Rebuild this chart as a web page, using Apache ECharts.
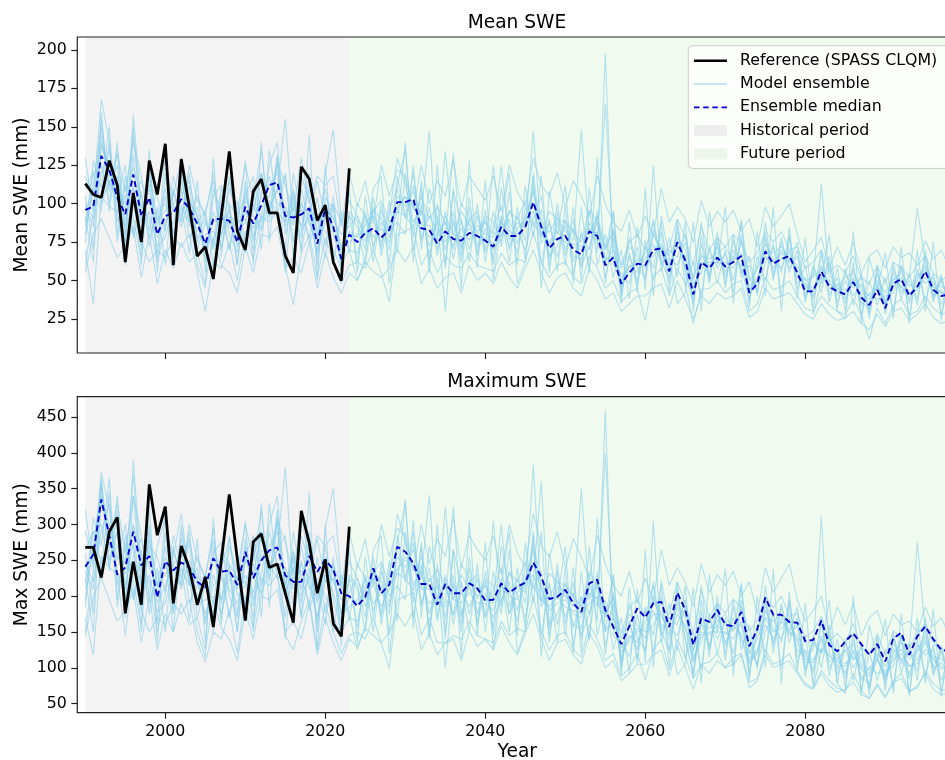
<!DOCTYPE html>
<html>
<head>
<meta charset="utf-8">
<title>SWE ensemble</title>
<script src="https://cdn.jsdelivr.net/npm/echarts@6/dist/echarts.min.js"></script>
<style>
  html, body { margin: 0; padding: 0; background: #fff; }
  #chart { width: 945px; height: 760px; }
</style>
</head>
<body>
<div id="chart"></div>
<script>
var FIRST_YEAR = 1990;
var REF_LAST = 2023;

var xTicks = [2000, 2020, 2040, 2060, 2080, 2100];
var meanTicks = [25, 50, 75, 100, 125, 150, 175, 200];
var maxTicks = [50, 100, 150, 200, 250, 300, 350, 400, 450];

// reference (SPASS CLQM), 1990-2023
var meanRef = [113, 106, 104, 128, 112, 62, 107, 75, 128, 106,
  139, 60, 129, 98, 66, 72, 51, 92, 134, 82,
  70, 108, 116, 94, 94, 66, 55, 124, 116, 89,
  99, 62, 50, 123];
var maxRef = [268, 268, 226, 290, 310, 176, 248, 188, 356, 285,
  325, 190, 270, 239, 188, 227, 157, 250, 342, 252,
  166, 276, 287, 240, 245, 204, 163, 319, 274, 204,
  251, 162, 144, 297];

// ensemble median, 1990-2099
var meanMedian = [96, 98, 131, 122, 104, 93, 119, 92, 104, 80,
  92, 94, 103, 97, 87, 74, 90, 90, 89, 75,
  98, 87, 99, 112, 114, 92, 91, 93, 97, 74,
  97, 85, 64, 80, 75, 81, 84, 78, 83, 101,
  101, 103, 84, 83, 74, 82, 77, 76, 81, 79,
  76, 72, 85, 79, 79, 85, 101, 85, 71, 77,
  79, 70, 67, 82, 79, 60, 65, 48, 55, 61,
  60, 70, 71, 56, 75, 63, 41, 62, 58, 65,
  59, 62, 66, 42, 48, 69, 61, 64, 66, 55,
  43, 43, 56, 46, 43, 41, 49, 39, 34, 44,
  32, 48, 51, 40, 46, 56, 44, 40, 41, 44];
var maxMedian = [241, 258, 335, 285, 230, 240, 290, 243, 256, 198,
  249, 236, 247, 240, 220, 212, 253, 234, 236, 216,
  262, 225, 250, 264, 268, 229, 220, 220, 256, 234,
  251, 237, 204, 200, 186, 199, 239, 204, 216, 269,
  262, 246, 217, 217, 188, 217, 204, 204, 218, 211,
  194, 195, 218, 205, 213, 219, 247, 227, 196, 199,
  209, 190, 178, 218, 223, 181, 157, 133, 158, 183,
  170, 190, 192, 157, 205, 181, 132, 169, 164, 181,
  160, 158, 178, 130, 154, 198, 174, 174, 164, 163,
  137, 139, 166, 132, 123, 137, 148, 133, 118, 133,
  109, 141, 149, 118, 144, 158, 140, 125, 123, 128];

// model ensemble members, mean SWE, 1990-2099
var meanMembers = [
  [118, 105, 168, 140, 96, 85, 132, 70, 118, 88, 110, 72, 120, 85, 98, 62, 105, 112, 80, 68,
    115, 78, 92, 125, 140, 80, 102, 85, 110, 60, 104, 96, 70, 93, 62, 95, 72, 88, 70, 118,
    92, 120, 75, 98, 66, 95, 64, 90, 70, 92, 68, 85, 98, 70, 92, 76, 120, 74, 88, 65,
    90, 62, 80, 70, 92, 52, 78, 42, 66, 50, 72, 58, 88, 48, 86, 55, 35, 74, 50, 78,
    52, 70, 58, 38, 60, 80, 52, 75, 58, 66, 38, 55, 48, 58, 36, 50, 40, 48, 28, 55,
    30, 58, 42, 50, 38, 66, 40, 52, 35, 50],
  [80, 112, 150, 110, 125, 70, 158, 98, 90, 62, 85, 108, 92, 112, 70, 88, 72, 98, 115, 82,
    88, 105, 120, 98, 108, 118, 75, 110, 86, 92, 82, 70, 58, 95, 88, 70, 104, 66, 92, 130,
    112, 88, 96, 72, 88, 70, 95, 66, 98, 72, 90, 64, 110, 85, 68, 98, 85, 96, 60, 88,
    70, 84, 58, 95, 68, 198, 60, 55, 48, 72, 50, 82, 65, 64, 60, 75, 48, 55, 70, 58,
    68, 50, 76, 52, 44, 62, 72, 55, 80, 48, 52, 38, 70, 40, 52, 35, 58, 34, 42, 38,
    40, 42, 60, 35, 55, 48, 52, 34, 48, 38],
  [100, 90, 120, 135, 88, 105, 110, 82, 95, 72, 78, 98, 85, 102, 92, 66, 95, 80, 96, 60,
    105, 92, 84, 118, 100, 98, 86, 100, 92, 68, 90, 92, 72, 75, 80, 92, 78, 84, 75, 96,
    105, 98, 88, 78, 80, 88, 72, 84, 76, 86, 80, 78, 90, 72, 84, 90, 95, 80, 75, 82,
    75, 74, 72, 78, 82, 62, 70, 52, 58, 64, 62, 66, 74, 58, 72, 66, 45, 60, 62, 62,
    62, 58, 68, 46, 52, 66, 58, 68, 62, 58, 46, 46, 52, 48, 45, 44, 48, 42, 38, 46,
    36, 46, 50, 42, 44, 52, 46, 42, 40, 45],
  [92, 62, 140, 118, 112, 96, 124, 105, 78, 95, 100, 86, 115, 90, 78, 80, 82, 72, 92, 88,
    90, 70, 108, 104, 125, 85, 98, 78, 120, 80, 110, 80, 62, 70, 68, 88, 92, 72, 96, 110,
    90, 112, 78, 92, 82, 75, 88, 72, 90, 68, 84, 70, 80, 90, 74, 92, 108, 88, 66, 72,
    86, 66, 64, 88, 75, 165, 72, 46, 60, 55, 68, 74, 62, 52, 82, 58, 38, 68, 54, 72,
    55, 66, 60, 44, 50, 74, 64, 58, 70, 52, 48, 40, 60, 44, 48, 38, 52, 36, 32, 48,
    34, 52, 46, 38, 50, 58, 40, 44, 38, 48],
  [75, 128, 110, 150, 80, 118, 90, 65, 135, 55, 120, 80, 98, 68, 115, 55, 110, 95, 70, 102,
    75, 112, 70, 135, 95, 70, 120, 92, 78, 104, 72, 105, 54, 110, 55, 105, 70, 100, 60, 112,
    135, 78, 110, 60, 100, 58, 108, 88, 62, 100, 62, 95, 72, 108, 60, 112, 78, 118, 55, 95,
    60, 98, 50, 110, 60, 80, 52, 70, 38, 85, 44, 125, 56, 78, 52, 88, 30, 80, 48, 82,
    45, 80, 52, 66, 40, 88, 50, 78, 55, 70, 36, 60, 42, 66, 32, 58, 34, 55, 25, 60,
    28, 62, 38, 55, 34, 70, 36, 54, 30, 58],
  [70, 35, 105, 98, 95, 60, 100, 75, 62, 70, 65, 78, 72, 80, 55, 30, 62, 58, 75, 50,
    82, 64, 92, 88, 95, 60, 34, 68, 80, 52, 78, 62, 48, 60, 62, 58, 70, 55, 36, 80,
    82, 85, 60, 70, 55, 66, 60, 58, 68, 60, 58, 56, 68, 60, 64, 62, 82, 62, 52, 60,
    62, 52, 48, 66, 58, 45, 50, 36, 42, 45, 24, 52, 58, 40, 58, 48, 22, 44, 45, 50,
    42, 48, 50, 30, 35, 52, 44, 46, 50, 40, 32, 30, 40, 34, 30, 28, 38, 28, 12, 32,
    22, 34, 38, 28, 30, 40, 32, 28, 30, 32],
  [110, 120, 125, 100, 140, 80, 105, 115, 100, 90, 95, 105, 130, 92, 82, 90, 70, 105, 98, 72,
    102, 95, 120, 96, 110, 155, 88, 118, 102, 78, 100, 90, 80, 85, 92, 75, 96, 90, 78, 105,
    98, 108, 92, 147, 70, 92, 80, 95, 86, 82, 88, 80, 125, 76, 88, 84, 147, 80, 82, 90,
    82, 76, 148, 80, 92, 72, 82, 58, 72, 66, 58, 80, 70, 66, 78, 70, 52, 66, 64, 68,
    72, 62, 88, 50, 58, 70, 68, 72, 64, 60, 50, 52, 113, 50, 46, 52, 55, 44, 40, 50,
    42, 50, 56, 46, 52, 60, 48, 46, 44, 50],
  [98, 85, 138, 125, 105, 100, 150, 88, 110, 78, 88, 100, 105, 115, 90, 72, 88, 92, 86, 78,
    95, 84, 105, 112, 120, 95, 92, 96, 88, 70, 95, 85, 68, 82, 78, 86, 88, 75, 86, 98,
    104, 100, 86, 86, 76, 134, 80, 78, 84, 78, 78, 74, 88, 82, 80, 88, 100, 86, 74, 78,
    80, 72, 70, 84, 80, 64, 66, 50, 56, 62, 64, 72, 72, 60, 76, 64, 44, 62, 60, 66,
    60, 64, 66, 44, 50, 70, 62, 64, 68, 56, 44, 44, 58, 48, 44, 42, 50, 40, 36, 46,
    34, 48, 52, 42, 46, 56, 46, 42, 42, 46],
  [85, 110, 95, 140, 75, 112, 80, 108, 72, 98, 60, 110, 88, 120, 75, 95, 60, 100, 70, 95,
    68, 100, 82, 100, 92, 120, 65, 102, 74, 90, 65, 100, 60, 92, 85, 60, 98, 70, 102, 68,
    120, 70, 100, 64, 92, 30, 90, 62, 104, 66, 96, 60, 92, 62, 98, 64, 112, 60, 90, 56,
    98, 54, 82, 58, 96, 48, 84, 40, 68, 46, 76, 50, 82, 42, 90, 46, 62, 40, 72, 48,
    70, 42, 80, 36, 66, 50, 74, 40, 78, 44, 60, 32, 68, 36, 58, 30, 62, 28, 50, 34,
    52, 30, 60, 26, 58, 36, 55, 28, 48, 30],
  [60, 95, 145, 108, 118, 88, 112, 60, 125, 85, 105, 62, 110, 78, 88, 95, 115, 70, 100, 60,
    110, 75, 118, 92, 132, 88, 105, 70, 98, 65, 120, 148, 90, 68, 100, 92, 62, 96, 82, 88,
    80, 125, 70, 110, 90, 78, 133, 70, 90, 95, 70, 125, 78, 96, 82, 70, 90, 105, 64, 100,
    66, 90, 60, 72, 88, 70, 95, 44, 78, 58, 52, 90, 60, 70, 65, 80, 50, 88, 52, 75,
    48, 76, 55, 60, 42, 78, 55, 70, 62, 75, 40, 58, 50, 62, 40, 55, 45, 52, 30, 58,
    36, 55, 45, 52, 97, 62, 38, 50, 36, 52],
  [130, 95, 155, 112, 132, 108, 140, 118, 82, 112, 128, 100, 88, 125, 102, 92, 120, 78, 110, 95,
    125, 102, 135, 90, 128, 112, 95, 130, 100, 118, 112, 118, 85, 120, 98, 115, 88, 125, 105, 122,
    118, 96, 125, 100, 115, 105, 128, 98, 118, 110, 102, 118, 95, 125, 108, 98, 130, 112, 105, 120,
    98, 115, 105, 92, 118, 100, 88, 82, 96, 78, 92, 80, 110, 88, 98, 90, 75, 102, 85, 95,
    88, 96, 82, 90, 72, 98, 85, 92, 100, 80, 62, 70, 78, 58, 72, 60, 75, 55, 66, 70,
    58, 72, 65, 68, 60, 76, 64, 70, 58, 72],
  [55, 80, 90, 78, 65, 72, 85, 52, 80, 48, 70, 58, 75, 62, 68, 48, 78, 60, 55, 42,
    72, 55, 80, 78, 85, 58, 65, 55, 75, 45, 68, 52, 42, 55, 50, 62, 56, 52, 58, 70,
    62, 72, 48, 58, 45, 52, 55, 42, 60, 50, 55, 48, 62, 52, 45, 58, 70, 55, 42, 52,
    55, 45, 40, 58, 50, 38, 42, 30, 35, 40, 40, 45, 48, 32, 50, 38, 25, 40, 35, 42,
    38, 40, 45, 26, 30, 45, 38, 40, 42, 35, 28, 25, 35, 28, 24, 26, 30, 22, 18, 28,
    20, 30, 32, 24, 28, 35, 26, 22, 24, 26],
  [105, 70, 160, 95, 135, 75, 145, 88, 120, 65, 135, 70, 125, 92, 60, 45, 130, 65, 118, 85,
    128, 60, 140, 75, 130, 55, 110, 68, 145, 50, 125, 60, 95, 70, 50, 65, 110, 118, 48, 85,
    140, 62, 115, 55, 125, 60, 110, 45, 128, 58, 115, 50, 88, 120, 48, 62, 118, 45, 108, 80,
    112, 48, 98, 55, 130, 60, 95, 35, 88, 42, 110, 40, 92, 65, 35, 42, 88, 30, 95, 60,
    98, 35, 90, 32, 82, 40, 98, 30, 85, 38, 78, 28, 50, 80, 30, 25, 82, 22, 65, 45,
    68, 25, 72, 22, 70, 30, 75, 24, 62, 28],
  [88, 120, 100, 115, 102, 125, 78, 96, 112, 105, 82, 118, 98, 88, 105, 92, 75, 110, 100, 92,
    105, 118, 88, 102, 95, 88, 108, 82, 92, 115, 90, 100, 88, 102, 92, 80, 95, 102, 88, 95,
    92, 85, 105, 90, 98, 88, 70, 100, 92, 80, 92, 88, 75, 95, 90, 102, 88, 78, 95, 90,
    88, 82, 75, 96, 88, 70, 82, 60, 75, 80, 70, 88, 62, 72, 90, 78, 60, 85, 70, 78,
    72, 80, 75, 62, 68, 82, 75, 82, 70, 72, 58, 62, 70, 56, 60, 55, 66, 52, 48, 60,
    48, 62, 58, 52, 60, 66, 55, 50, 54, 58]
];

// model ensemble members, max SWE, 1990-2099
var maxMembers = [
  [290, 250, 373, 320, 230, 210, 300, 180, 280, 215, 270, 175, 290, 215, 240, 160, 260, 275, 200, 170,
    280, 195, 230, 300, 340, 200, 250, 210, 270, 150, 255, 235, 175, 225, 155, 230, 180, 215, 175, 285,
    225, 290, 185, 240, 165, 230, 160, 220, 175, 225, 170, 210, 240, 175, 225, 190, 290, 185, 215, 160,
    220, 155, 200, 175, 225, 130, 190, 105, 165, 125, 180, 145, 215, 120, 210, 140, 90, 180, 125, 190,
    130, 170, 145, 95, 150, 195, 130, 185, 145, 160, 95, 135, 120, 145, 90, 125, 100, 120, 70, 135,
    75, 145, 105, 125, 95, 160, 100, 130, 88, 125],
  [195, 270, 350, 250, 290, 170, 390, 240, 220, 150, 205, 265, 225, 275, 170, 215, 175, 240, 280, 200,
    215, 255, 290, 240, 265, 285, 185, 270, 210, 225, 200, 170, 145, 230, 215, 170, 255, 160, 225, 315,
    275, 215, 235, 175, 215, 170, 230, 160, 240, 175, 220, 155, 270, 210, 165, 240, 210, 235, 145, 215,
    170, 205, 140, 230, 165, 459, 145, 135, 115, 175, 120, 200, 160, 155, 145, 185, 115, 135, 170, 140,
    165, 120, 185, 125, 105, 150, 175, 135, 195, 115, 125, 92, 170, 98, 125, 85, 140, 82, 102, 92,
    96, 102, 145, 85, 132, 118, 126, 82, 116, 92],
  [245, 220, 290, 330, 215, 255, 270, 200, 230, 178, 190, 240, 210, 250, 225, 165, 230, 195, 235, 150,
    255, 225, 205, 290, 245, 240, 210, 245, 225, 170, 220, 225, 175, 185, 195, 225, 190, 205, 185, 235,
    255, 240, 215, 190, 195, 215, 175, 205, 185, 210, 195, 190, 220, 175, 205, 220, 230, 195, 185, 200,
    185, 180, 175, 190, 200, 150, 170, 128, 140, 155, 150, 160, 180, 140, 175, 160, 110, 145, 150, 150,
    150, 140, 165, 112, 125, 160, 140, 165, 150, 140, 112, 112, 126, 116, 110, 106, 116, 102, 92, 112,
    88, 112, 120, 102, 106, 126, 112, 102, 98, 110],
  [225, 150, 340, 285, 270, 230, 300, 255, 190, 230, 245, 210, 280, 220, 190, 195, 200, 175, 225, 215,
    220, 170, 265, 255, 305, 205, 240, 190, 290, 195, 270, 195, 150, 170, 165, 215, 225, 175, 235, 270,
    220, 275, 190, 225, 200, 185, 215, 175, 220, 165, 205, 170, 195, 220, 180, 225, 265, 215, 160, 175,
    210, 160, 155, 215, 185, 399, 175, 112, 145, 135, 165, 180, 150, 125, 200, 140, 92, 165, 130, 175,
    135, 160, 145, 105, 120, 180, 155, 140, 170, 125, 118, 98, 145, 108, 118, 92, 126, 88, 78, 116,
    82, 126, 112, 92, 122, 140, 98, 108, 92, 116],
  [185, 310, 270, 365, 195, 285, 220, 160, 330, 135, 290, 195, 240, 165, 280, 135, 270, 230, 170, 250,
    185, 275, 170, 330, 230, 170, 290, 225, 190, 255, 175, 255, 130, 270, 135, 255, 170, 245, 145, 275,
    330, 190, 270, 145, 245, 140, 265, 215, 150, 245, 150, 235, 175, 265, 145, 275, 190, 290, 135, 235,
    145, 240, 120, 270, 145, 195, 125, 170, 92, 210, 108, 305, 135, 190, 125, 215, 85, 195, 115, 200,
    110, 195, 125, 160, 98, 215, 120, 190, 135, 170, 88, 145, 100, 160, 78, 140, 82, 135, 62, 145,
    68, 150, 92, 135, 82, 170, 88, 130, 72, 140],
  [170, 118, 255, 240, 230, 145, 245, 180, 150, 170, 160, 190, 175, 195, 135, 108, 150, 140, 180, 120,
    200, 155, 225, 215, 230, 145, 125, 165, 195, 125, 190, 150, 120, 145, 150, 140, 170, 135, 99, 195,
    200, 205, 145, 170, 135, 135, 145, 140, 165, 145, 140, 135, 165, 145, 155, 150, 200, 150, 125, 145,
    150, 125, 115, 160, 140, 110, 120, 88, 100, 120, 83, 125, 140, 96, 140, 115, 85, 105, 108, 120,
    100, 115, 120, 80, 85, 125, 105, 110, 120, 95, 78, 72, 96, 82, 72, 68, 92, 68, 57, 78,
    60, 82, 92, 68, 72, 96, 78, 68, 72, 78],
  [265, 290, 300, 240, 340, 195, 255, 280, 240, 215, 230, 255, 315, 225, 200, 220, 170, 255, 240, 175,
    250, 230, 290, 235, 265, 380, 215, 285, 245, 190, 245, 220, 195, 205, 225, 185, 235, 220, 190, 255,
    240, 265, 225, 341, 170, 225, 195, 230, 210, 200, 215, 195, 300, 185, 215, 205, 383, 195, 200, 220,
    200, 185, 350, 195, 225, 175, 200, 140, 175, 160, 140, 195, 170, 160, 190, 170, 125, 160, 155, 165,
    175, 150, 215, 120, 140, 170, 165, 175, 155, 145, 120, 125, 311, 120, 112, 125, 132, 106, 96, 120,
    102, 120, 135, 112, 125, 145, 116, 112, 106, 120],
  [235, 210, 330, 300, 255, 245, 370, 215, 265, 190, 215, 245, 255, 280, 220, 175, 215, 225, 210, 190,
    230, 205, 255, 270, 290, 230, 225, 235, 215, 170, 230, 205, 165, 200, 190, 210, 215, 185, 210, 240,
    250, 245, 210, 210, 185, 325, 195, 190, 205, 190, 190, 180, 215, 200, 195, 215, 245, 210, 180, 190,
    195, 175, 170, 205, 195, 155, 160, 122, 136, 150, 155, 175, 175, 146, 185, 155, 108, 150, 146, 160,
    146, 155, 160, 108, 122, 170, 150, 155, 165, 136, 108, 108, 140, 116, 108, 102, 122, 98, 88, 112,
    84, 116, 126, 102, 112, 136, 112, 98, 102, 112],
  [210, 265, 235, 345, 185, 275, 195, 265, 175, 240, 150, 270, 215, 290, 185, 230, 150, 245, 170, 230,
    165, 245, 200, 245, 225, 230, 160, 250, 180, 220, 160, 245, 150, 225, 210, 150, 240, 170, 250, 165,
    290, 170, 245, 155, 225, 100, 220, 150, 255, 160, 235, 145, 225, 150, 240, 155, 275, 145, 220, 135,
    240, 130, 200, 140, 235, 118, 205, 98, 165, 112, 185, 122, 200, 102, 220, 112, 150, 98, 175, 118,
    170, 102, 195, 88, 160, 122, 180, 98, 190, 106, 145, 78, 165, 88, 140, 72, 150, 68, 122, 82,
    126, 72, 145, 64, 140, 88, 132, 68, 116, 72],
  [150, 235, 355, 265, 290, 215, 275, 150, 300, 210, 255, 150, 270, 190, 215, 230, 280, 170, 245, 150,
    270, 185, 290, 225, 320, 215, 255, 170, 240, 160, 295, 350, 220, 165, 245, 225, 150, 235, 200, 215,
    195, 305, 170, 270, 220, 190, 325, 170, 220, 230, 170, 305, 190, 235, 200, 170, 220, 360, 155, 245,
    160, 220, 145, 175, 215, 170, 230, 108, 190, 140, 125, 220, 145, 170, 160, 195, 120, 215, 125, 185,
    118, 185, 135, 145, 102, 190, 135, 170, 150, 185, 98, 140, 122, 150, 98, 135, 110, 128, 72, 142,
    88, 135, 110, 126, 276, 150, 92, 122, 88, 126],
  [320, 240, 360, 270, 330, 260, 340, 285, 200, 270, 310, 245, 215, 300, 250, 225, 295, 190, 270, 235,
    300, 250, 320, 220, 305, 275, 230, 315, 245, 285, 270, 285, 210, 290, 240, 280, 215, 300, 255, 295,
    285, 235, 300, 245, 280, 255, 310, 240, 285, 265, 250, 285, 230, 300, 260, 240, 315, 270, 255, 290,
    240, 280, 255, 225, 285, 245, 215, 200, 235, 190, 225, 195, 265, 215, 240, 220, 185, 245, 205, 230,
    215, 235, 200, 220, 175, 240, 205, 225, 245, 195, 165, 180, 200, 150, 185, 160, 190, 145, 170, 180,
    145, 175, 160, 165, 150, 185, 158, 170, 145, 178],
  [145, 200, 225, 195, 165, 180, 210, 135, 200, 125, 175, 150, 190, 160, 170, 125, 195, 155, 140, 110,
    180, 140, 200, 195, 210, 150, 165, 140, 190, 118, 170, 135, 110, 140, 130, 155, 145, 135, 150, 175,
    158, 180, 125, 148, 118, 135, 140, 110, 152, 130, 140, 125, 158, 135, 118, 148, 175, 140, 110, 135,
    140, 118, 105, 148, 130, 100, 110, 82, 92, 105, 105, 118, 125, 88, 130, 100, 70, 105, 92, 110,
    100, 105, 118, 72, 82, 118, 100, 105, 110, 92, 75, 70, 92, 75, 66, 70, 80, 62, 58, 75,
    58, 80, 85, 66, 75, 92, 70, 62, 66, 70],
  [260, 175, 365, 235, 320, 185, 340, 215, 290, 160, 320, 175, 300, 225, 150, 115, 310, 160, 285, 210,
    305, 150, 330, 185, 310, 140, 265, 170, 345, 125, 300, 150, 230, 175, 125, 160, 265, 285, 120, 210,
    335, 155, 275, 140, 300, 150, 265, 115, 305, 145, 275, 125, 215, 290, 120, 155, 285, 115, 260, 195,
    270, 120, 235, 138, 310, 150, 230, 90, 212, 105, 265, 100, 222, 160, 90, 105, 212, 78, 230, 148,
    238, 88, 218, 82, 200, 100, 238, 78, 206, 95, 190, 72, 125, 195, 78, 64, 200, 62, 160, 112,
    168, 64, 176, 60, 170, 78, 182, 60, 152, 72],
  [220, 290, 245, 275, 250, 300, 195, 235, 270, 255, 205, 285, 240, 215, 255, 225, 190, 265, 245, 225,
    255, 285, 215, 250, 235, 215, 262, 200, 225, 280, 220, 245, 215, 248, 225, 195, 232, 248, 215, 232,
    225, 208, 255, 220, 238, 215, 172, 245, 225, 196, 224, 215, 185, 232, 220, 248, 215, 192, 232, 220,
    215, 200, 185, 234, 215, 172, 200, 148, 184, 196, 172, 215, 152, 176, 220, 190, 148, 208, 172, 190,
    176, 196, 184, 152, 166, 200, 184, 200, 172, 176, 142, 152, 172, 138, 148, 135, 162, 128, 118, 148,
    118, 152, 142, 128, 148, 162, 135, 122, 132, 142]
];

var FONT = 'DejaVu Sans';
var ENS_COLOR = 'rgba(135,206,235,0.6)';
var MED_COLOR = '#0000cd';
var HIST_COLOR = '#f3f3f3';
var FUT_COLOR = '#f1faee';

function pairs(values) {
  var out = [];
  for (var i = 0; i < values.length; i++) {
    out.push([FIRST_YEAR + i, values[i]]);
  }
  return out;
}

function panelSeries(idx, members, median, ref) {
  var list = [];
  list.push({
    name: 'Historical period', type: 'line', xAxisIndex: idx, yAxisIndex: idx,
    data: [], silent: true, z: 1,
    markArea: { silent: true, itemStyle: { color: HIST_COLOR, opacity: 1 },
      data: [[{ xAxis: FIRST_YEAR }, { xAxis: REF_LAST }]] }
  });
  list.push({
    name: 'Future period', type: 'line', xAxisIndex: idx, yAxisIndex: idx,
    data: [], silent: true, z: 1,
    markArea: { silent: true, itemStyle: { color: FUT_COLOR, opacity: 1 },
      data: [[{ xAxis: REF_LAST }, { xAxis: 2100 }]] }
  });
  for (var m = 0; m < members.length; m++) {
    list.push({
      name: 'Model ensemble', type: 'line', xAxisIndex: idx, yAxisIndex: idx,
      data: pairs(members[m]), symbol: 'none', silent: true, z: 2,
      lineStyle: { color: ENS_COLOR, width: 1.1 }
    });
  }
  list.push({
    name: 'Ensemble median', type: 'line', xAxisIndex: idx, yAxisIndex: idx,
    data: pairs(median), symbol: 'none', silent: true, z: 4,
    lineStyle: { color: MED_COLOR, width: 1.9, type: [6, 3.5] }
  });
  list.push({
    name: 'Reference (SPASS CLQM)', type: 'line', xAxisIndex: idx, yAxisIndex: idx,
    data: pairs(ref), symbol: 'none', silent: true, z: 5,
    lineStyle: { color: '#000', width: 2.8 }
  });
  return list;
}

function yearLabel(v) {
  return String(v);
}

function xAxisOpt(idx, showLabels) {
  return {
    type: 'value', gridIndex: idx, min: 1989, max: 2099,
    splitLine: { show: false },
    axisLine: { show: false },
    axisTick: { show: true, customValues: xTicks, length: 6, lineStyle: { color: '#222', width: 1.2 } },
    axisLabel: { show: showLabels, customValues: xTicks, formatter: yearLabel, margin: 11,
      color: '#000', fontFamily: FONT, fontSize: 15.8 },
    name: showLabels ? 'Year' : '',
    nameLocation: 'middle', nameGap: 29, nameMoveOverlap: false,
    nameTextStyle: { color: '#000', fontFamily: FONT, fontSize: 18.6, lineHeight: 20 }
  };
}

function yAxisOpt(idx, min, max, ticks, label) {
  return {
    type: 'value', gridIndex: idx, min: min, max: max,
    splitLine: { show: false },
    axisLine: { show: false },
    axisTick: { show: true, customValues: ticks, length: 6, lineStyle: { color: '#222', width: 1.2 } },
    axisLabel: { customValues: ticks, margin: 10.5, color: '#000', fontFamily: FONT, fontSize: 15.8 },
    name: label, nameLocation: 'middle', nameGap: 44.8, nameMoveOverlap: false,
    nameTextStyle: { color: '#000', fontFamily: FONT, fontSize: 18.6, lineHeight: 20 }
  };
}

var chart = echarts.init(document.getElementById('chart'), null, { renderer: 'canvas' });

// grid runs past the right edge, like the cropped original
var gridBase = { show: true, z: 10, backgroundColor: 'transparent', borderColor: '#222', borderWidth: 1.2,
  left: 77.3, width: 880, height: 316, outerBoundsMode: 'none', containLabel: false };

var option = {
  animation: false,
  backgroundColor: '#fff',
  title: [
    { text: 'Mean SWE', left: 517, top: 13, textAlign: 'center', padding: 0,
      textStyle: { fontFamily: FONT, fontSize: 18.6, fontWeight: 'normal', color: '#000', lineHeight: 20 } },
    { text: 'Maximum SWE', left: 517, top: 372, textAlign: 'center', padding: 0,
      textStyle: { fontFamily: FONT, fontSize: 18.6, fontWeight: 'normal', color: '#000', lineHeight: 20 } }
  ],
  grid: [
    Object.assign({}, gridBase, { top: 37 }),
    Object.assign({}, gridBase, { top: 396.7 })
  ],
  xAxis: [xAxisOpt(0, false), xAxisOpt(1, true)],
  yAxis: [
    yAxisOpt(0, 2.9, 208.4, meanTicks, 'Mean SWE (mm)'),
    yAxisOpt(1, 37.4, 478.3, maxTicks, 'Max SWE (mm)')
  ],
  legend: {
    orient: 'vertical', left: 688.3, top: 45.7,
    padding: [6, 22, 5.5, 5.7],
    itemWidth: 33, itemHeight: 11, itemGap: 5.3,
    backgroundColor: 'rgba(255,255,255,0.8)', borderColor: '#cccccc', borderWidth: 1, borderRadius: 4,
    selectedMode: false,
    textStyle: { fontFamily: FONT, fontSize: 15.8, color: '#000', lineHeight: 18, padding: [0, 0, 0, 8] },
    data: [
      { name: 'Reference (SPASS CLQM)', icon: 'path://M0,0h36v2.8h-36z', itemStyle: { color: '#000' } },
      { name: 'Model ensemble', icon: 'path://M0,0h36v1.1h-36z', itemStyle: { color: '#87ceeb' } },
      { name: 'Ensemble median', icon: 'path://M0,0h6v2h-6z M10,0h6v2h-6z M20,0h6v2h-6z M30,0h6v2h-6z',
        itemStyle: { color: MED_COLOR } },
      { name: 'Historical period', icon: 'rect', itemStyle: { color: '#eeeeee' } },
      { name: 'Future period', icon: 'rect', itemStyle: { color: '#edf6ea' } }
    ]
  },
  series: panelSeries(0, meanMembers, meanMedian, meanRef)
    .concat(panelSeries(1, maxMembers, maxMedian, maxRef))
};

chart.setOption(option);
</script>
</body>
</html>
